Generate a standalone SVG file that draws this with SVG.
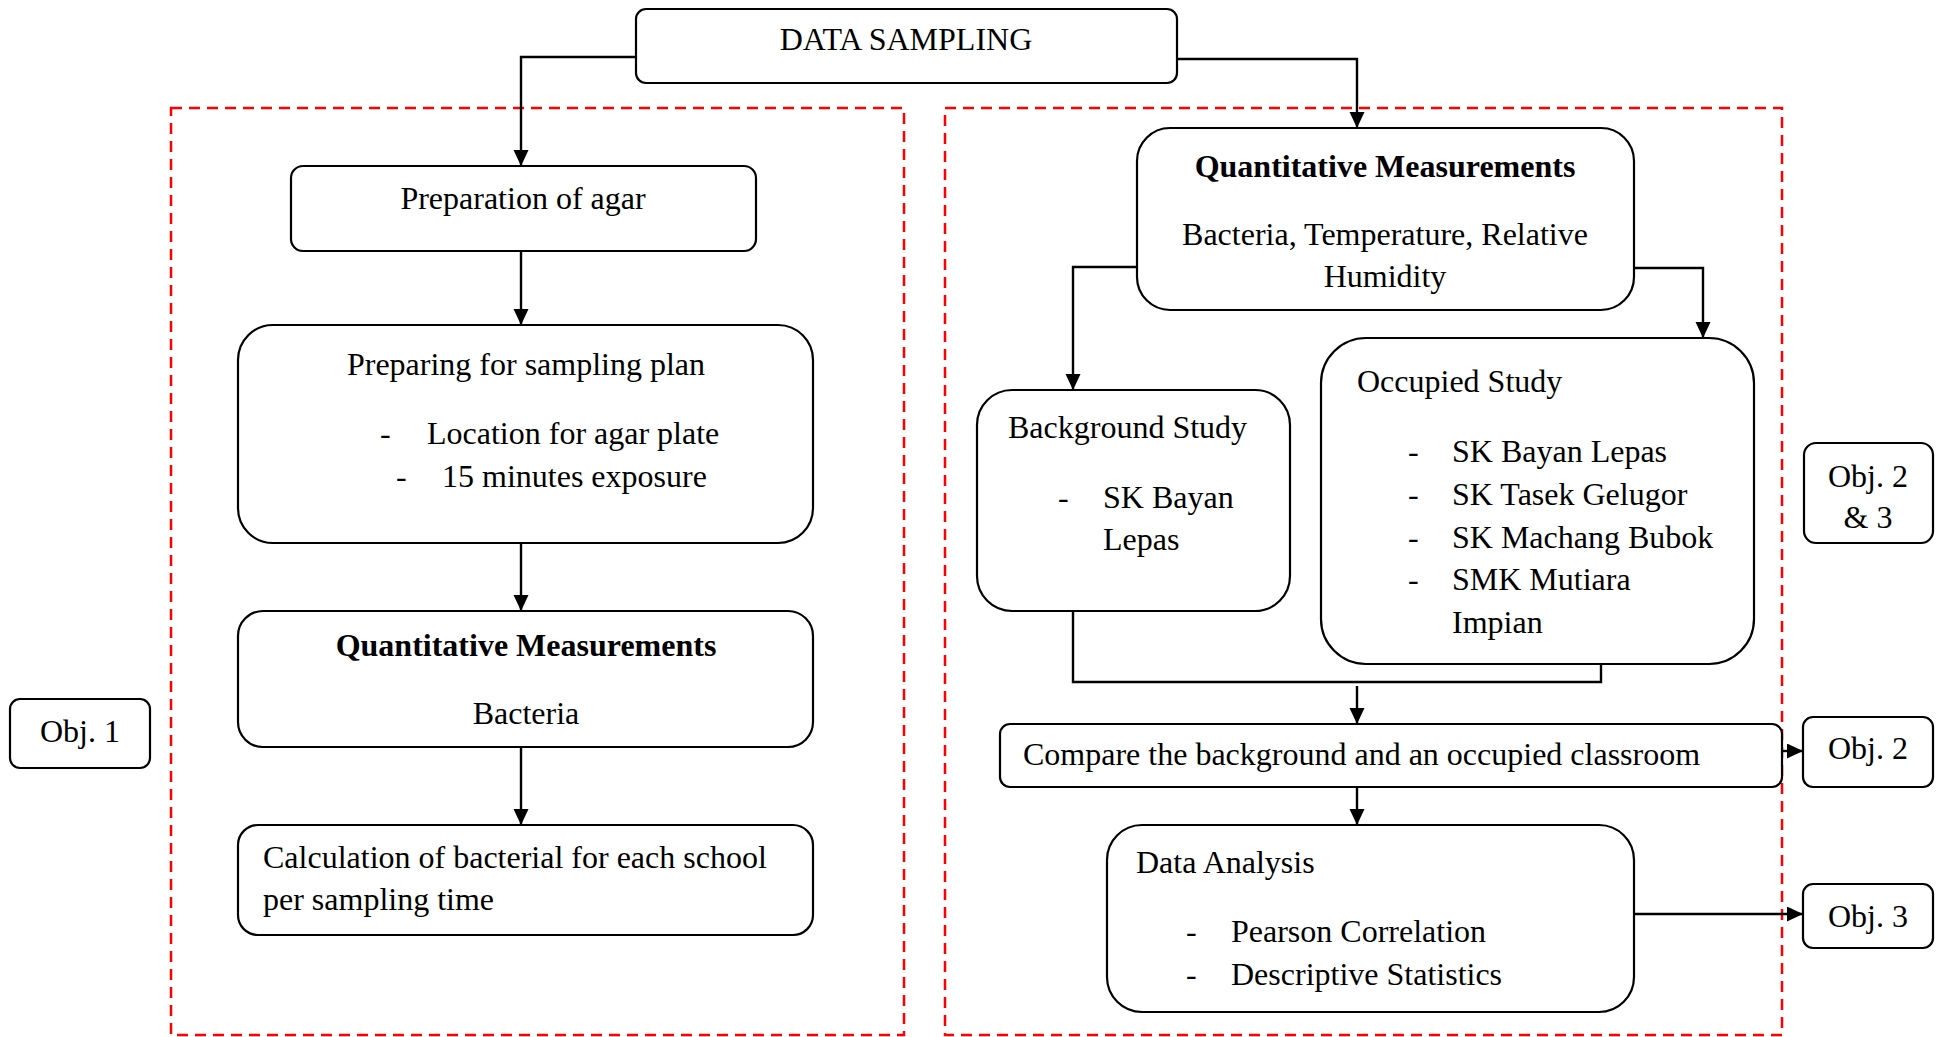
<svg xmlns="http://www.w3.org/2000/svg" width="1941" height="1037" viewBox="0 0 1941 1037">
<style>
.box{fill:#fff;stroke:#000;stroke-width:2.2}
.grp{fill:none;stroke:#ff0000;stroke-width:2.5;stroke-dasharray:11 7}
.t{font-family:"Liberation Serif","Times New Roman",serif;font-size:32px;fill:#000}
.c{text-anchor:middle}
.b{font-weight:bold}
.con{fill:none;stroke:#000;stroke-width:2.4}
</style>
<defs>
<marker id="ah" markerWidth="17" markerHeight="16" refX="16" refY="7.5" orient="auto" markerUnits="userSpaceOnUse"><path d="M0,0 L16,7.5 L0,15 z" fill="#000"/></marker>
</defs>
<g id="groups">
<rect class="grp" x="171" y="108" width="733" height="927"/>
<rect class="grp" x="945" y="108" width="837" height="927"/>
</g>
<g id="connectors">
<path class="con" d="M636,57 H521 V166" marker-end="url(#ah)"/>
<path class="con" d="M1177,59 H1357 V128" marker-end="url(#ah)"/>
<path class="con" d="M521,251 V325" marker-end="url(#ah)"/>
<path class="con" d="M521,543 V611" marker-end="url(#ah)"/>
<path class="con" d="M521,747 V825" marker-end="url(#ah)"/>
<path class="con" d="M1137,267 H1073 V390" marker-end="url(#ah)"/>
<path class="con" d="M1634,268 H1703 V338" marker-end="url(#ah)"/>
<path class="con" d="M1073,611 V682 H1601 V664"/>
<path class="con" d="M1357,686 V724" marker-end="url(#ah)"/>
<path class="con" d="M1782,751 H1803" marker-end="url(#ah)"/>
<path class="con" d="M1357,787 V825" marker-end="url(#ah)"/>
<path class="con" d="M1634,914 H1803" marker-end="url(#ah)"/>
</g>
<g id="data-sampling">
<rect class="box" x="636" y="9" width="541" height="74" rx="10"/>
<text class="t c" x="906" y="50">DATA SAMPLING</text>
</g>
<g id="prep-agar">
<rect class="box" x="291" y="166" width="465" height="85" rx="12"/>
<text class="t c" x="523" y="209">Preparation of agar</text>
</g>
<g id="sampling-plan">
<rect class="box" x="238" y="325" width="575" height="218" rx="35"/>
<text class="t c" x="526" y="375">Preparing for sampling plan</text>
<text class="t" x="380" y="444">-</text>
<text class="t" x="427" y="444">Location for agar plate</text>
<text class="t" x="396" y="487">-</text>
<text class="t" x="442" y="487">15 minutes exposure</text>
</g>
<g id="quant-left">
<rect class="box" x="238" y="611" width="575" height="136" rx="25"/>
<text class="t c b" x="526" y="656">Quantitative Measurements</text>
<text class="t c" x="526" y="724">Bacteria</text>
</g>
<g id="calculation">
<rect class="box" x="238" y="825" width="575" height="110" rx="20"/>
<text class="t" x="263" y="868">Calculation of bacterial for each school</text>
<text class="t" x="263" y="910">per sampling time</text>
</g>
<g id="obj1">
<rect class="box" x="10" y="699" width="140" height="69" rx="10"/>
<text class="t c" x="80" y="742">Obj. 1</text>
</g>
<g id="quant-right">
<rect class="box" x="1137" y="128" width="497" height="182" rx="33"/>
<text class="t c b" x="1385" y="177">Quantitative Measurements</text>
<text class="t c" x="1385" y="245">Bacteria, Temperature, Relative</text>
<text class="t c" x="1385" y="287">Humidity</text>
</g>
<g id="background">
<rect class="box" x="977" y="390" width="313" height="221" rx="35"/>
<text class="t" x="1008" y="438">Background Study</text>
<text class="t" x="1058" y="508">-</text>
<text class="t" x="1103" y="508">SK Bayan</text>
<text class="t" x="1103" y="550">Lepas</text>
</g>
<g id="occupied">
<rect class="box" x="1321" y="338" width="433" height="326" rx="45"/>
<text class="t" x="1357" y="392">Occupied Study</text>
<text class="t" x="1408" y="462">-</text>
<text class="t" x="1452" y="462">SK Bayan Lepas</text>
<text class="t" x="1408" y="505">-</text>
<text class="t" x="1452" y="505">SK Tasek Gelugor</text>
<text class="t" x="1408" y="548">-</text>
<text class="t" x="1452" y="548">SK Machang Bubok</text>
<text class="t" x="1408" y="590">-</text>
<text class="t" x="1452" y="590">SMK Mutiara</text>
<text class="t" x="1452" y="633">Impian</text>
</g>
<g id="obj23">
<rect class="box" x="1804" y="443" width="129" height="100" rx="12"/>
<text class="t c" x="1868" y="487">Obj. 2</text>
<text class="t c" x="1868" y="528">&amp; 3</text>
</g>
<g id="compare">
<rect class="box" x="1000" y="724" width="782" height="63" rx="10"/>
<text class="t" x="1023" y="765">Compare the background and an occupied classroom</text>
</g>
<g id="obj2">
<rect class="box" x="1803" y="717" width="130" height="70" rx="10"/>
<text class="t c" x="1868" y="759">Obj. 2</text>
</g>
<g id="analysis">
<rect class="box" x="1107" y="825" width="527" height="187" rx="35"/>
<text class="t" x="1136" y="873">Data Analysis</text>
<text class="t" x="1186" y="942">-</text>
<text class="t" x="1231" y="942">Pearson Correlation</text>
<text class="t" x="1186" y="985">-</text>
<text class="t" x="1231" y="985">Descriptive Statistics</text>
</g>
<g id="obj3">
<rect class="box" x="1803" y="884" width="130" height="64" rx="10"/>
<text class="t c" x="1868" y="927">Obj. 3</text>
</g>
</svg>
